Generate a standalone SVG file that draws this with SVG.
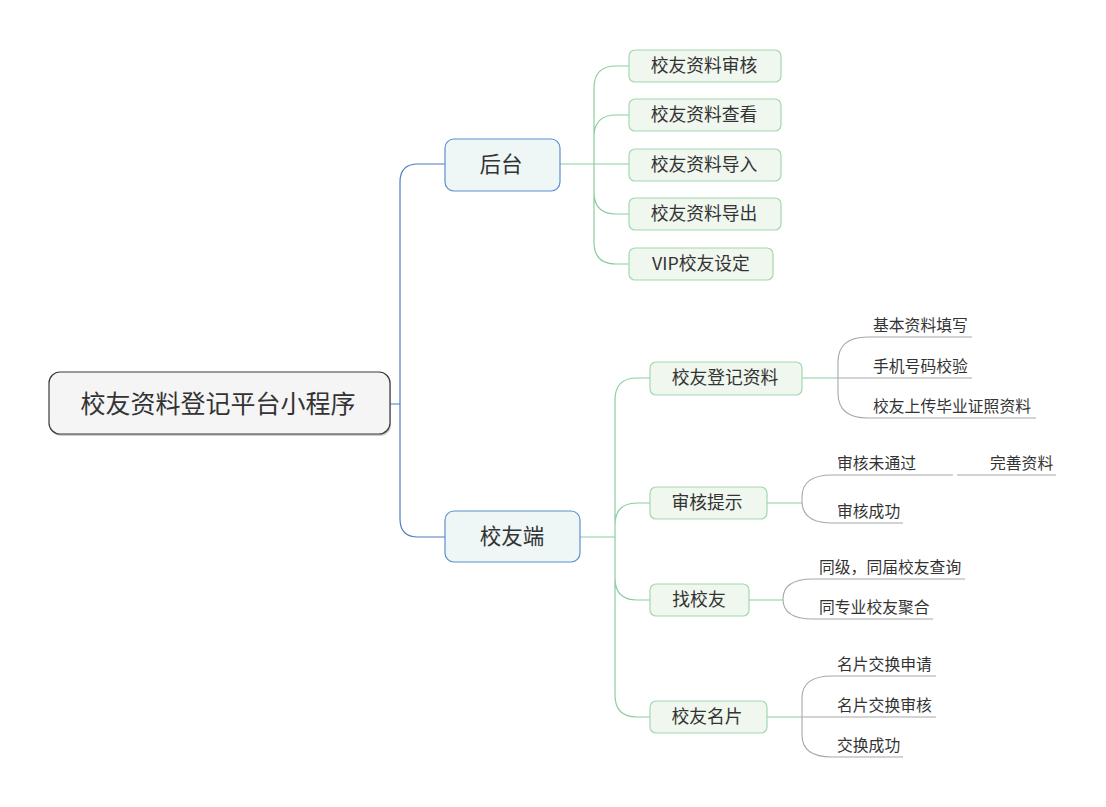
<svg xmlns="http://www.w3.org/2000/svg" width="1106" height="807" viewBox="0 0 1106 807">
<style>
text{font-family:"Noto Sans CJK SC","Liberation Sans",sans-serif;fill:#333}
.root{fill:#f5f5f5;stroke:#3a3a3a;stroke-width:1.2}
.l1{fill:#eef6f6;stroke:#5a8fd0;stroke-width:1.2}
.l2{fill:#eff7ee;stroke:#a3d8b0;stroke-width:1.2}
.cb{fill:none;stroke:#4a7cc0;stroke-width:1.2}
.cg{fill:none;stroke:#8ccd9e;stroke-width:1.2}
.cy{fill:none;stroke:#a8a8a8;stroke-width:1.1}
.t1{font-size:21.5px;text-anchor:middle}
.t2{font-size:17.8px;text-anchor:middle}
.t3{font-size:15.8px}
</style>
<rect width="1106" height="807" fill="#fff"/>
<g id="connectors">
<path class="cb" d="M390,404 H400 M400,404 V182 Q400,164 418,164 H445 M400,404 V519 Q400,537 418,537 H445"/>
<path class="cg" d="M560,164 H629 M594,164 V88 Q594,66 616,66 H629 M594,164 V137 Q594,115 616,115 H629 M594,164 V192 Q594,214 616,214 H629 M594,164 V242 Q594,264 616,264 H629"/>
<path class="cg" d="M580,537 H615 M615,537 V400 Q615,378 637,378 H650 M615,537 V525 Q615,503 637,503 H650 M615,537 V578 Q615,600 637,600 H650 M615,537 V695 Q615,717 637,717 H650"/>
<path class="cg" d="M802,378 H838 M767,503 H802 M749,600 H783 M767,717 H802"/>
<path class="cy" d="M838,378 H972 M838,378 V362 Q838,337 868,337 H972 M838,378 V393 Q838,418 868,418 H1036"/>
<path class="cy" d="M802,503 V497 Q802,475 832,475 H953 M802,503 V501 Q802,523 832,523 H903 M957,475 H1056"/>
<path class="cy" d="M783,600 V599 Q783,579 813,579 H965 M783,600 V599 Q783,619 813,619 H933"/>
<path class="cy" d="M802,717 H936 M802,717 V698 Q802,676 832,676 H936 M802,717 V735 Q802,757 832,757 H903"/>
</g>
<g id="root">
<rect x="50" y="374" width="341" height="62" rx="11" fill="#9a9a9a" opacity="0.5"/>
<rect class="root" x="49" y="372" width="341" height="62" rx="11"/>
<text x="218" y="413" font-size="25" text-anchor="middle">校友资料登记平台小程序</text>
</g>
<g id="houtai">
<rect class="l1" x="445" y="139" width="115" height="52" rx="9"/>
<text class="t1" x="501" y="172">后台</text>
</g>
<g id="xiaoyouduan">
<rect class="l1" x="445" y="511" width="135" height="51" rx="9"/>
<text class="t1" x="512" y="544">校友端</text>
</g>
<g id="b1"><rect class="l2" x="629" y="50" width="152" height="32" rx="6"/><text class="t2" x="704" y="72">校友资料审核</text></g>
<g id="b2"><rect class="l2" x="629" y="99" width="152" height="32" rx="6"/><text class="t2" x="704" y="121">校友资料查看</text></g>
<g id="b3"><rect class="l2" x="629" y="149" width="152" height="32" rx="6"/><text class="t2" x="704" y="171">校友资料导入</text></g>
<g id="b4"><rect class="l2" x="629" y="198" width="152" height="32" rx="6"/><text class="t2" x="704" y="220">校友资料导出</text></g>
<g id="b5"><rect class="l2" x="629" y="248" width="144" height="32" rx="6"/><text class="t2" x="701" y="270">VIP校友设定</text></g>
<g id="s1"><rect class="l2" x="650" y="362" width="152" height="33" rx="6"/><text class="t2" x="725" y="384">校友登记资料</text></g>
<g id="s2"><rect class="l2" x="650" y="487" width="117" height="32" rx="6"/><text class="t2" x="707" y="509">审核提示</text></g>
<g id="s3"><rect class="l2" x="650" y="584" width="99" height="32" rx="6"/><text class="t2" x="699" y="606">找校友</text></g>
<g id="s4"><rect class="l2" x="650" y="701" width="117" height="32" rx="6"/><text class="t2" x="707" y="723">校友名片</text></g>
<g id="leaf1"><text class="t3" x="873" y="331">基本资料填写</text></g>
<g id="leaf2"><text class="t3" x="873" y="372">手机号码校验</text></g>
<g id="leaf3"><text class="t3" x="873" y="412">校友上传毕业证照资料</text></g>
<g id="leaf4"><text class="t3" x="837" y="469">审核未通过</text></g>
<g id="leaf5"><text class="t3" x="990" y="469">完善资料</text></g>
<g id="leaf6"><text class="t3" x="837" y="517">审核成功</text></g>
<g id="leaf7"><text class="t3" x="819" y="573">同级，同届校友查询</text></g>
<g id="leaf8"><text class="t3" x="819" y="613">同专业校友聚合</text></g>
<g id="leaf9"><text class="t3" x="837" y="670">名片交换申请</text></g>
<g id="leaf10"><text class="t3" x="837" y="711">名片交换审核</text></g>
<g id="leaf11"><text class="t3" x="837" y="751">交换成功</text></g>
</svg>
